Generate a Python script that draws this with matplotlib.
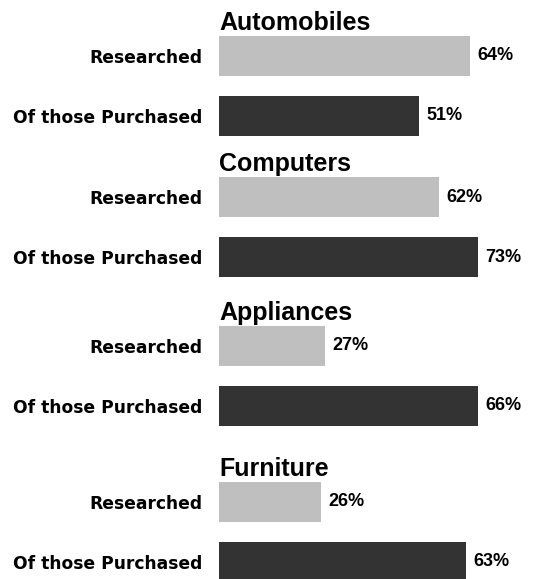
import matplotlib.pyplot as plt

plt.rcParams['font.family'] = ['Liberation Sans', 'DejaVu Sans']

categories = ["Automobiles", "Computers", "Appliances", "Furniture"]
bar_labels = ["Researched", "Of those Purchased"]
researched = [64, 62, 27, 26]
purchased = [51, 73, 66, 63]

W, H = 537, 579
fig = plt.figure(figsize=(W / 100, H / 100), dpi=100)

# layout in pixels: centre of first bar per panel, bar spacing and height
first_row = [56, 197, 346, 502]
x_max = [81, 89.5, 81, 81]
left = 219
row = 60
bar_h = 40
colors = ['#bfbfbf', '#333333']

for i, cat in enumerate(categories):
    c = first_row[i]
    ax = fig.add_axes([left / W, 1 - (c + 1.5 * row) / H, (W - left) / W, 2 * row / H])
    vals = [researched[i], purchased[i]]
    bars = ax.barh([0, 1], vals, height=bar_h / row, color=colors)
    ax.set_ylim(1.5, -0.5)
    ax.set_xlim(0, x_max[i])
    ax.set_yticks([0, 1])
    ax.set_yticklabels(bar_labels, fontsize=12.3, fontweight='bold', family='DejaVu Sans')
    ax.tick_params(axis='y', length=0, pad=12)
    ax.set_xticks([])
    for s in ax.spines.values():
        s.set_visible(False)
    ax.patch.set_visible(False)
    for b, v in zip(bars, vals):
        ax.annotate(f"{v}%", (v, b.get_y() + b.get_height() / 2), xytext=(5, 0),
                    textcoords='offset points', va='center', ha='left',
                    fontsize=13, fontweight='bold')
    ax.annotate(cat, (0, -bar_h / row / 2), xytext=(0, 4.5), textcoords='offset points',
                va='baseline', ha='left', fontsize=18, fontweight='bold')

fig.savefig('out.png', dpi=100)
